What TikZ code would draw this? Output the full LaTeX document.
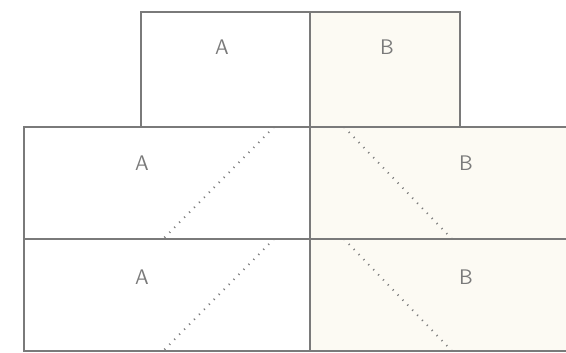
\documentclass[tikz,border=0pt]{standalone}
\usepackage{tikz}
\definecolor{paleB}{HTML}{FCFAF3}
\definecolor{edge}{HTML}{7A7A7A}
\tikzset{wall/.style={draw=edge,line width=0.6pt},
lbl/.style={text=edge,font=\sffamily\large},
seam/.style={draw=edge,line width=1.1pt,dash pattern=on 0.6pt off 3.4pt}}

\begin{document}
\begin{tikzpicture}
\useasboundingbox (0,0) rectangle (11.32,7.04);

\fill[paleB] (6.2,4.5) rectangle (9.2,6.8); \fill[paleB] (6.2,0.02) rectangle (11.32,4.5);

\draw[wall] (2.82,4.5) rectangle (9.2,6.8); \draw[wall] (6.2,4.5)--(6.2,6.8);
\node[lbl] (topA) at (4.44,6.1){A};
\node[lbl] (topB) at (7.74,6.1){B};

%Lower Figure

\draw[wall] (11.32,4.5)--(0.48,4.5)--(0.48,0.02)--(11.32,0.02); \draw[wall] (0.48,2.26)--(11.32,2.26); \draw[wall] (6.2,0.02)--(6.2,4.5);

\draw[seam] (5.48,4.5)--(3.26,2.26); \draw[seam] (5.48,2.26)--(3.26,0.02);
\draw[seam] (6.88,4.5)--(9.04,2.26); \draw[seam] (6.88,2.26)--(9.04,0.02);

\node[lbl] (upA) at (2.84,3.78){A};
\node[lbl] (lowA) at (2.84,1.5){A};
\node[lbl] (upB) at (9.32,3.78){B};
\node[lbl] (lowB) at (9.32,1.5){B};
\end{tikzpicture}
\end{document}
